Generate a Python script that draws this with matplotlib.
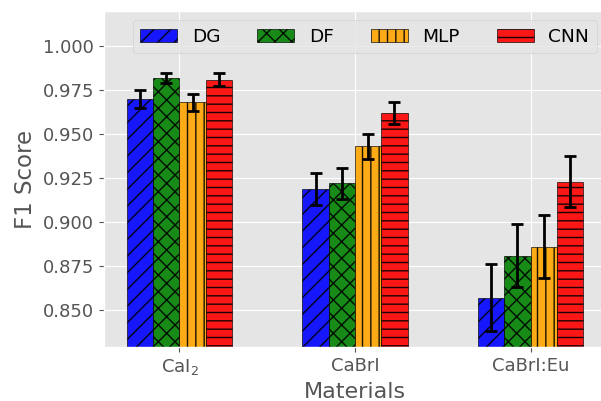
import numpy as np
import matplotlib
matplotlib.use('Agg')
import matplotlib.pyplot as plt

plt.style.use('ggplot')

materials = ['CaI$_2$', 'CaBrI', 'CaBrI:Eu']
models = ['DG', 'DF', 'MLP', 'CNN']

dg = [0.970, 0.919, 0.857]
df = [0.982, 0.922, 0.881]
mlp = [0.968, 0.943, 0.886]
cnn = [0.981, 0.962, 0.923]

dg_err = [0.005, 0.009, 0.019]
df_err = [0.003, 0.009, 0.018]
mlp_err = [0.005, 0.007, 0.018]
cnn_err = [0.0035, 0.006, 0.0145]

values = [dg, df, mlp, cnn]
errors = [dg_err, df_err, mlp_err, cnn_err]
colors = ['blue', 'green', 'orange', 'red']
hatches = ['//', 'xx', '||', '--']

x = np.arange(len(materials))
width = 0.15

fig, ax = plt.subplots(figsize=(6.01, 4.01), dpi=100)
for i in range(len(models)):
    ax.bar(x + (i - 1.5) * width, values[i], width, yerr=errors[i],
           color=colors[i], alpha=0.9, edgecolor='black', hatch=hatches[i],
           capsize=4, error_kw={'elinewidth': 2, 'capthick': 2, 'ecolor': 'black'},
           label=models[i])

ax.set_ylim(0.829, 1.020)
ax.set_xticks(x)
ax.set_xticklabels(materials, fontsize=13)
ax.tick_params(axis='y', labelsize=13)
ax.set_xlabel('Materials', fontsize=16)
ax.set_ylabel('F1 Score', fontsize=16.5)
ax.legend(loc='upper right', ncol=4, fontsize=13.3, frameon=True)

# axes runs slightly past the right edge, like the original crop
fig.subplots_adjust(left=104 / 601, right=606 / 601, top=1 - 11 / 401, bottom=1 - 347 / 401)
plt.savefig('out.png', dpi=100)
